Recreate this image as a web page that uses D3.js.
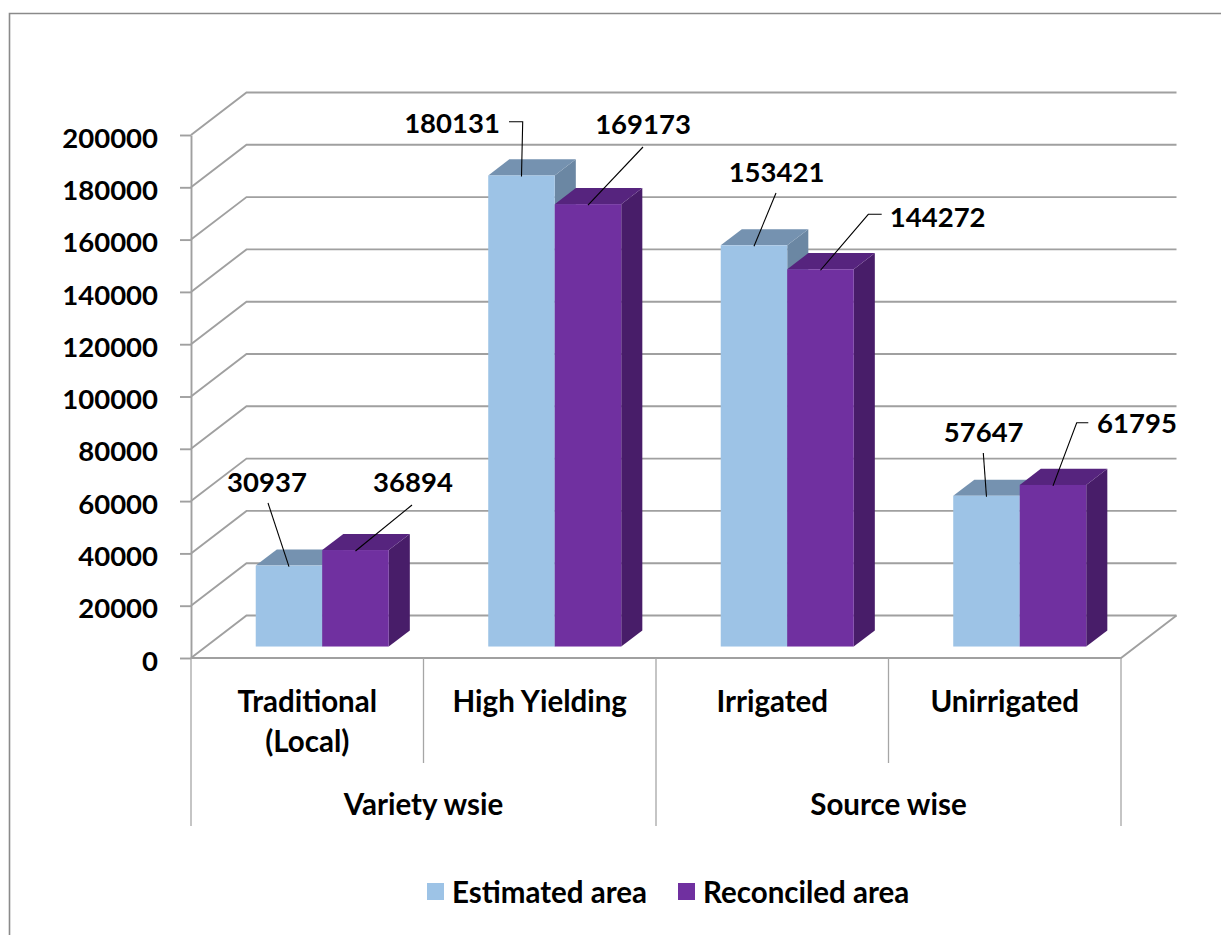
<!DOCTYPE html>
<html>
<head>
<meta charset="utf-8">
<script src="https://cdn.jsdelivr.net/npm/d3@7"></script>
<style>
  html, body { margin: 0; padding: 0; background: #fff; }
  svg { display: block; }
  text { font-family: Lato, "Open Sans", sans-serif; font-weight: 700; fill: #000; }
</style>
</head>
<body>
<svg id="chart" width="1221" height="935"></svg>
<script>
// ---------- data ----------
const categories = ["Traditional (Local)", "High Yielding", "Irrigated", "Unirrigated"];
const categoryLines = [["Traditional", "(Local)"], ["High Yielding"], ["Irrigated"], ["Unirrigated"]];
const groups = ["Variety wsie", "Source wise"];
const groupMembers = [[0, 1], [2, 3]];
const seriesNames = ["Estimated area", "Reconciled area"];
const estimated = [30937, 180131, 153421, 57647];
const reconciled = [36894, 169173, 144272, 61795];
const yTicks = [0, 20000, 40000, 60000, 80000, 100000, 120000, 140000, 160000, 180000, 200000];

// ---------- layout ----------
const W = 1221, H = 935;
const X0 = 191, X1 = 1121;           // front plane plot extent
const Y0 = 658, YTOP = 135;          // front plane value extent
const DX = 55.5, DY = 42.5;          // depth projection
const Z0 = 0.27, Z1 = 0.65;          // bar depth range
const BAR_W = 66.5;
const FONT = 27.5;                   // numbers
const WFONT = 29.5;                  // words

// label layout (text centre x, baseline y, leader start, optional elbow start)
const labelLayout = [
  [{x: 267, y: 492, lx: 268, ly: 503}, {x: 413, y: 492, lx: 412, ly: 505}],
  [{x: 452, y: 133, lx: 522.7, ly: 121.7, ex: 509}, {x: 643, y: 134, lx: 643, ly: 147}],
  [{x: 776.5, y: 182, lx: 776, ly: 193}, {x: 937.7, y: 227, lx: 868.3, ly: 214.3, ex: 881.7}],
  [{x: 983.7, y: 442, lx: 983.3, ly: 453}, {x: 1137, y: 433, lx: 1076.7, ly: 422.7, ex: 1088.3}]
];

const colors = {
  est:  {front: "#9dc3e6", top: "#7592b0", side: "#6b87a3"},
  rec:  {front: "#7030a0", top: "#56247e", side: "#481d69"}
};
const gridColor = "#a0a0a0";

// ---------- scales ----------
const x = d3.scaleBand().domain(categories).range([X0, X1]).paddingInner(0).paddingOuter(0);
const y = d3.scaleLinear().domain([0, 200000]).range([Y0, YTOP]);
const sub = d3.scaleBand().domain(seriesNames).range([0, 2 * BAR_W]);

function P(xf, v, z) { return [xf + z * DX, y(v) - z * DY]; }

const svg = d3.select("#chart");

// outer border
svg.append("path")
  .attr("d", `M9.5,${H + 5} L9.5,13.5 L${W + 5},13.5`)
  .attr("fill", "none").attr("stroke", "#8a8a8a").attr("stroke-width", 1.6);

// ---------- walls / gridlines ----------
const grid = svg.append("g");
yTicks.forEach(v => {
  const a = P(X0, v, 0), b = P(X0, v, 1), c = P(X1, v, 1);
  grid.append("path")
    .attr("d", `M${a[0]},${a[1]} L${b[0]},${b[1]} L${c[0]},${c[1]}`)
    .attr("fill", "none").attr("stroke", gridColor).attr("stroke-width", 1.9);
});
// floor front edge and right edge
{
  const a = P(X0, 0, 0), b = P(X1, 0, 0), c = P(X1, 0, 1);
  grid.append("path")
    .attr("d", `M${a[0]},${a[1]} L${b[0]},${b[1]} L${c[0]},${c[1]}`)
    .attr("fill", "none").attr("stroke", gridColor).attr("stroke-width", 1.9);
}

// ---------- y axis ----------
const yAxis = d3.axisLeft(y).tickValues(yTicks).tickSize(11).tickSizeOuter(0).tickPadding(22)
  .tickFormat(d3.format("d"));
const ya = svg.append("g").attr("transform", `translate(${X0},0)`).call(yAxis);
ya.select(".domain").attr("stroke", gridColor).attr("stroke-width", 1.9);
ya.selectAll(".tick line").attr("stroke", gridColor).attr("stroke-width", 1.9);
ya.selectAll(".tick text")
  .attr("font-size", FONT).attr("font-family", "Lato, sans-serif").attr("font-weight", 700)
  .attr("fill", "#000").attr("dy", "0.44em");

// ---------- bars ----------
const barsG = svg.append("g");
const series = [
  {name: seriesNames[0], values: estimated, col: colors.est},
  {name: seriesNames[1], values: reconciled, col: colors.rec}
];
const anchors = categories.map(() => []);
categories.forEach((cat, ci) => {
  const left = x(cat) + x.bandwidth() / 2 - BAR_W;
  series.forEach((s, si) => {
    const v = s.values[ci];
    const xa = left + sub(s.name), xb = xa + sub.bandwidth();
    const fTL = P(xa, v, Z0), fBR = P(xb, 0, Z0);
    const g = barsG.append("g");
    const s1 = P(xb, v, Z0), s2 = P(xb, v, Z1), s3 = P(xb, 0, Z1), s4 = P(xb, 0, Z0);
    g.append("polygon").attr("points", [s1, s2, s3, s4].map(p => p.join(",")).join(" "))
      .attr("fill", s.col.side);
    const t1 = P(xa, v, Z0), t2 = P(xb, v, Z0), t3 = P(xb, v, Z1), t4 = P(xa, v, Z1);
    g.append("polygon").attr("points", [t1, t2, t3, t4].map(p => p.join(",")).join(" "))
      .attr("fill", s.col.top);
    g.append("rect").attr("x", fTL[0]).attr("y", fTL[1])
      .attr("width", fBR[0] - fTL[0]).attr("height", fBR[1] - fTL[1])
      .attr("fill", s.col.front);
    anchors[ci][si] = [(fTL[0] + fBR[0]) / 2, fTL[1] + 1];
  });
});

// ---------- data labels ----------
const lblG = svg.append("g");
categories.forEach((cat, ci) => {
  series.forEach((s, si) => {
    const L = labelLayout[ci][si], an = anchors[ci][si];
    let d = L.ex !== undefined ? `M${L.ex},${L.ly} L${L.lx},${L.ly} L${an[0]},${an[1]}`
                               : `M${L.lx},${L.ly} L${an[0]},${an[1]}`;
    lblG.append("path").attr("d", d).attr("fill", "none").attr("stroke", "#000").attr("stroke-width", 1.1);
    lblG.append("text").attr("x", L.x).attr("y", L.y).attr("text-anchor", "middle")
      .attr("font-size", FONT).text(d3.format("d")(s.values[ci]));
  });
});

// ---------- category axis ----------
const catG = svg.append("g");
const divColor = "#a6a6a6";
const bounds = categories.map(c => x(c)).concat([X1]);
bounds.forEach((bx, i) => {
  const major = (i === 0 || i === bounds.length - 1 || groupMembers.some(gm => x(categories[gm[0]]) === bx));
  catG.append("line").attr("x1", bx).attr("x2", bx).attr("y1", Y0).attr("y2", major ? 826 : 763)
    .attr("stroke", divColor).attr("stroke-width", 1.3);
});
categories.forEach((cat, ci) => {
  const cx = x(cat) + x.bandwidth() / 2;
  categoryLines[ci].forEach((line, li) => {
    catG.append("text").attr("x", cx).attr("y", 712 + li * 40).attr("text-anchor", "middle")
      .attr("font-size", WFONT).text(line);
  });
});
groups.forEach((gname, gi) => {
  const m = groupMembers[gi];
  const gx0 = x(categories[m[0]]), gx1 = x(categories[m[m.length - 1]]) + x.bandwidth();
  catG.append("text").attr("x", (gx0 + gx1) / 2).attr("y", 815).attr("text-anchor", "middle")
    .attr("font-size", WFONT).text(gname);
});

// ---------- legend ----------
const legend = svg.append("g");
const legendX = [427, 678];
series.forEach((s, i) => {
  legend.append("rect").attr("x", legendX[i]).attr("y", 883).attr("width", 17).attr("height", 17)
    .attr("fill", s.col.front);
  legend.append("text").attr("x", legendX[i] + 25).attr("y", 903).attr("font-size", WFONT).text(s.name);
});
</script>
</body>
</html>
